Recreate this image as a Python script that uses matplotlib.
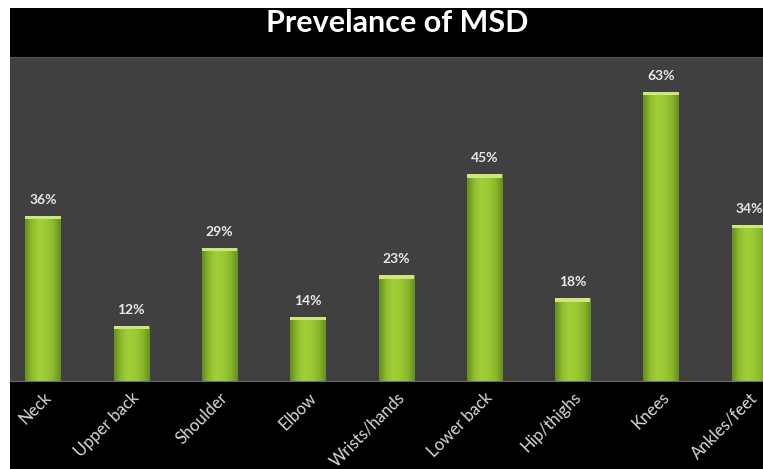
import matplotlib
matplotlib.use("Agg")
import matplotlib.pyplot as plt
import numpy as np
from matplotlib.patches import Rectangle
from matplotlib.colors import LinearSegmentedColormap

# Data
parts = ["Neck", "Upper back", "Shoulder", "Elbow", "Wrists/hands",
         "Lower back", "Hip/thighs", "Knees", "Ankles/feet"]
prevalence = [36, 12, 29, 14, 23, 45, 18, 63, 34]

plt.rcParams['font.family'] = ['Lato', 'DejaVu Sans']

fig = plt.figure(figsize=(7.63, 4.69), dpi=100)
fig.patch.set_facecolor('white')
# black backdrop (white strip on left and top like the screenshot)
fig.add_artist(Rectangle((10 / 763, 0), 1, 1 - 8 / 469, transform=fig.transFigure,
                         facecolor='black', edgecolor='none', zorder=0))

ax = fig.add_axes([10 / 763, 88 / 469, 753 / 763, 324 / 469])
ax.set_facecolor('#404040')

x = np.arange(len(parts))
bars = ax.bar(x, prevalence, width=0.4, color='#93c02e', edgecolor='none', zorder=2)

# horizontal shading on each bar (darker sides, lighter middle)
green = LinearSegmentedColormap.from_list(
    'g', ['#668f20', '#8fbe2e', '#a2cf3a', '#9acb34', '#8ab92c', '#668f20'])
grad = np.linspace(0, 1, 64).reshape(1, -1)
for b in bars:
    x0, w, h = b.get_x(), b.get_width(), b.get_height()
    im = ax.imshow(grad, cmap=green, aspect='auto', extent=[x0, x0 + w, 0, h],
                   zorder=3, interpolation='bicubic')
    im.set_clip_path(b)
    # light cap on top
    ax.add_patch(Rectangle((x0, h - 0.7), w, 0.7, facecolor='#cde87a',
                           edgecolor='none', zorder=4))

for xi, v in zip(x, prevalence):
    ax.text(xi, v + 2.2, f"{v}%", ha='center', va='bottom', color='#e8e8e8',
            fontsize=10, fontweight='bold', zorder=5)

ax.set_xlim(-0.374, 8.154)
ax.set_ylim(0, 70.6)
ax.set_yticks([])
ax.set_xticks(x)
ax.set_xticklabels(parts, rotation=45, ha='right', va='top', rotation_mode='anchor',
                   color='#d8d8d8', fontsize=12)
ax.tick_params(axis='x', length=0, pad=6)
for s in ['left', 'right']:
    ax.spines[s].set_visible(False)
ax.spines['bottom'].set_color('#6a6a6a')
ax.spines['top'].set_color('#555555')

fig.text(397 / 763, 1 - 23 / 469, "Prevelance of MSD", ha='center', va='center',
         color='white', fontsize=22, fontweight='bold')

fig.savefig("out.png", dpi=100, facecolor=fig.get_facecolor())
